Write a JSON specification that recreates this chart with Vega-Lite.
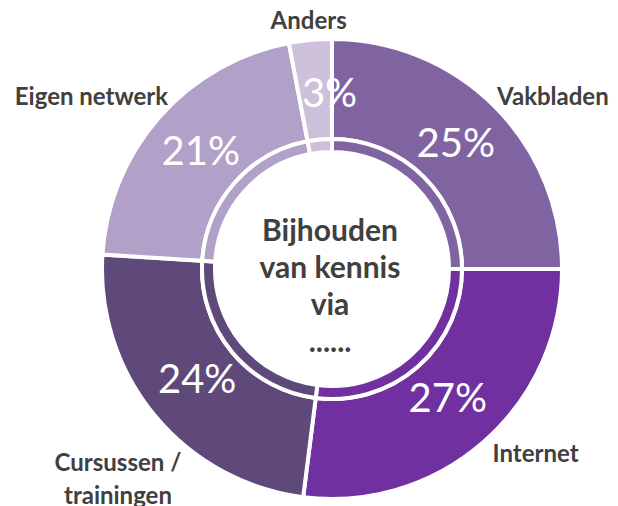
{
  "$schema": "https://vega.github.io/schema/vega-lite/v6.json",
  "width": 572,
  "height": 474,
  "autosize": "none",
  "padding": {"left": 46, "top": 32, "right": 0, "bottom": 0},
  "background": "white",
  "config": {"view": {"stroke": null}},
  "data": {
    "values": [
      {"category": "Vakbladen", "value": 0.25, "rank": 1},
      {"category": "Internet", "value": 0.27, "rank": 2},
      {"category": "Cursussen / trainingen", "value": 0.24, "rank": 3},
      {"category": "Eigen netwerk", "value": 0.21, "rank": 4},
      {"category": "Anders", "value": 0.03, "rank": 5}
    ]
  },
  "layer": [
    {
      "mark": {"type": "arc", "outerRadius": 230, "innerRadius": 130, "stroke": "white", "strokeWidth": 4},
      "encoding": {
        "theta": {"field": "value", "type": "quantitative", "stack": true},
        "order": {"field": "rank", "type": "quantitative"},
        "color": {
          "field": "category", "type": "nominal", "legend": null,
          "scale": {
            "domain": ["Vakbladen", "Internet", "Cursussen / trainingen", "Eigen netwerk", "Anders"],
            "range": ["#8064A2", "#7030A0", "#5F497A", "#B1A0C7", "#CCC0DA"]
          }
        }
      }
    },
    {
      "mark": {"type": "arc", "outerRadius": 130, "innerRadius": 117, "stroke": "white", "strokeWidth": 4},
      "encoding": {
        "theta": {"field": "value", "type": "quantitative", "stack": true},
        "order": {"field": "rank", "type": "quantitative"},
        "color": {
          "field": "category", "type": "nominal", "legend": null,
          "scale": {
            "domain": ["Vakbladen", "Internet", "Cursussen / trainingen", "Eigen netwerk", "Anders"],
            "range": ["#8064A2", "#7030A0", "#5F497A", "#B1A0C7", "#CCC0DA"]
          }
        }
      }
    },
    {
      "mark": {"type": "text", "radius": 175, "font": "Lato", "fontSize": 40, "fill": "white", "align": "center", "baseline": "middle"},
      "encoding": {
        "theta": {"field": "value", "type": "quantitative", "stack": true},
        "order": {"field": "rank", "type": "quantitative"},
        "text": {"condition": {"test": "datum.category !== 'Anders'", "field": "value", "type": "quantitative", "format": ".0%"}, "value": ""}
      }
    },
    {
      "mark": {"type": "text", "radius": 175, "dx": 14, "font": "Lato", "fontSize": 40, "fill": "white", "align": "center", "baseline": "middle"},
      "encoding": {
        "theta": {"field": "value", "type": "quantitative", "stack": true},
        "order": {"field": "rank", "type": "quantitative"},
        "text": {"condition": {"test": "datum.category === 'Anders'", "field": "value", "type": "quantitative", "format": ".0%"}, "value": ""}
      }
    },
    {
      "mark": {"type": "text", "radius": 248, "font": "Lato", "fontSize": 24, "fontWeight": "bold", "fill": "#404040", "align": "center", "baseline": "middle"},
      "encoding": {
        "theta": {"field": "value", "type": "quantitative", "stack": true},
        "order": {"field": "rank", "type": "quantitative"},
        "text": {"condition": {"test": "datum.category === 'Anders'", "field": "category", "type": "nominal"}, "value": ""}
      }
    },
    {
      "mark": {"type": "text", "radius": 270, "dx": 30, "dy": 20, "font": "Lato", "fontSize": 24, "fontWeight": "bold", "fill": "#404040", "align": "center", "baseline": "middle"},
      "encoding": {
        "theta": {"field": "value", "type": "quantitative", "stack": true},
        "order": {"field": "rank", "type": "quantitative"},
        "text": {"condition": {"test": "datum.category === 'Vakbladen'", "field": "category", "type": "nominal"}, "value": ""}
      }
    },
    {
      "mark": {"type": "text", "radius": 270, "dx": 25, "dy": -17, "font": "Lato", "fontSize": 24, "fontWeight": "bold", "fill": "#404040", "align": "center", "baseline": "middle"},
      "encoding": {
        "theta": {"field": "value", "type": "quantitative", "stack": true},
        "order": {"field": "rank", "type": "quantitative"},
        "text": {"condition": {"test": "datum.category === 'Internet'", "field": "category", "type": "nominal"}, "value": ""}
      }
    },
    {
      "mark": {"type": "text", "radius": 270, "dx": -6, "dy": 23, "lineHeight": 33, "font": "Lato", "fontSize": 24, "fontWeight": "bold", "fill": "#404040", "align": "center", "baseline": "middle"},
      "encoding": {
        "theta": {"field": "value", "type": "quantitative", "stack": true},
        "order": {"field": "rank", "type": "quantitative"},
        "text": {"condition": {"test": "datum.category === 'Cursussen / trainingen'", "value": ["Cursussen /", "trainingen"]}, "value": ""}
      }
    },
    {
      "mark": {"type": "text", "radius": 270, "dx": -38, "dy": 8, "font": "Lato", "fontSize": 24, "fontWeight": "bold", "fill": "#404040", "align": "center", "baseline": "middle"},
      "encoding": {
        "theta": {"field": "value", "type": "quantitative", "stack": true},
        "order": {"field": "rank", "type": "quantitative"},
        "text": {"condition": {"test": "datum.category === 'Eigen netwerk'", "field": "category", "type": "nominal"}, "value": ""}
      }
    },
    {
      "data": {"values": [{"title": "Bijhouden\nvan kennis\nvia\n......"}]},
      "mark": {"type": "text", "lineBreak": "\n", "lineHeight": 37, "dx": -2, "dy": -37, "font": "Lato", "fontSize": 30, "fontWeight": "bold", "fill": "#404040", "align": "center", "baseline": "middle"},
      "encoding": {
        "text": {"field": "title", "type": "nominal"}
      }
    }
  ]
}
